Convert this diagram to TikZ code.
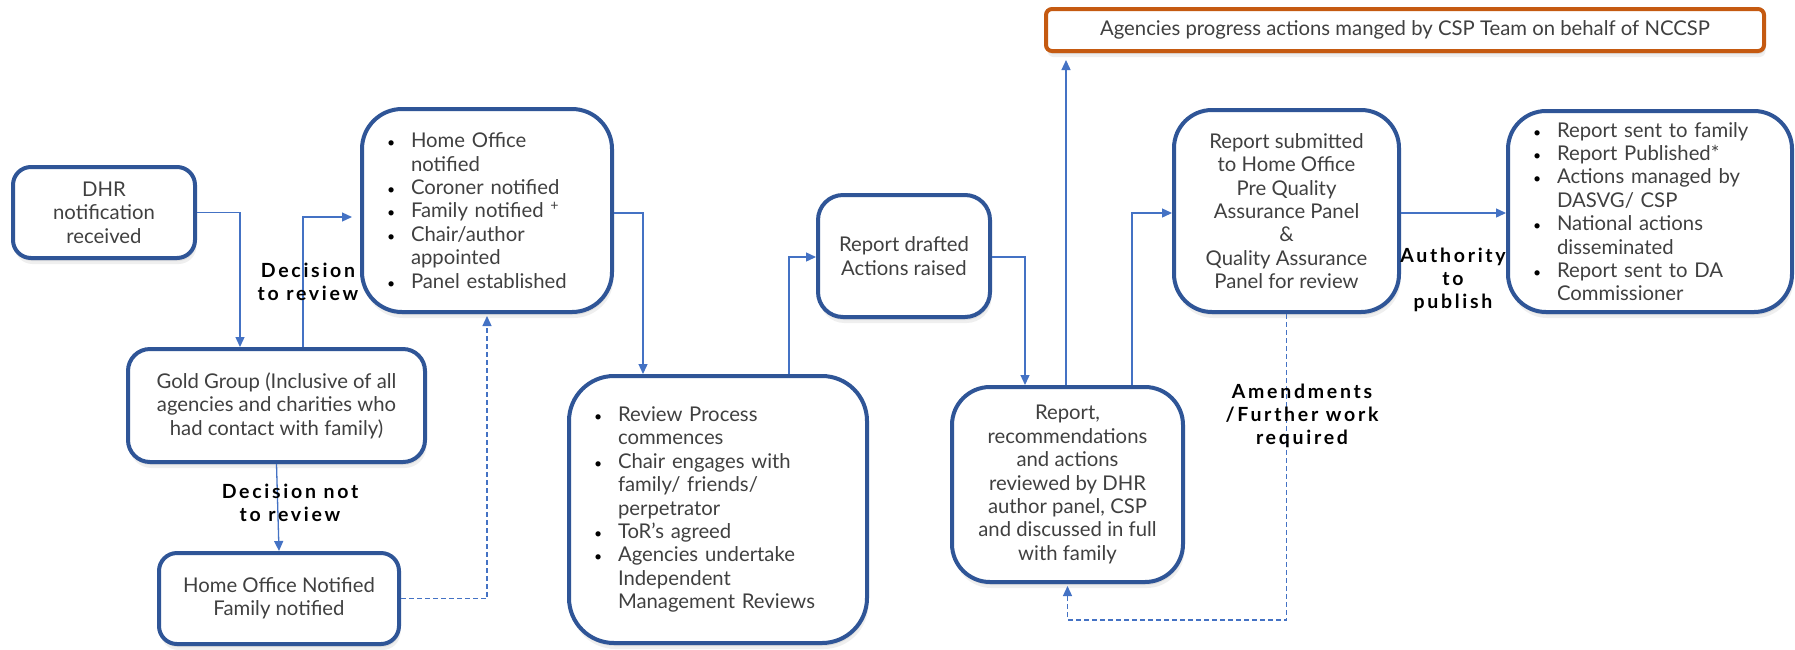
\documentclass[tikz,border=0pt]{standalone}
\usepackage{fontspec}
\setmainfont{Lato}
\newfontfamily\lblfont{Lato}[LetterSpace=14]
\usetikzlibrary{arrows.meta,shadows}
\definecolor{boxblue}{HTML}{2F5597}
\definecolor{linkblue}{HTML}{4472C4}
\definecolor{orng}{HTML}{C55A11}
\definecolor{txt}{HTML}{404040}
\newcommand{\bu}{\makebox[25pt][l]{\hspace*{1pt}\color{black}\fontsize{14}{14}\selectfont\textbullet}}
\newcommand{\bc}{\hspace*{25pt}}
\begin{document}
\begin{tikzpicture}[x=1pt,y=-1pt,
  every node/.style={font=\fontsize{20.3}{23.4}\selectfont, text=txt},
  box/.style={draw=boxblue, line width=4pt, fill=white, rounded corners=#1, inner sep=0pt, align=center,
    drop shadow={opacity=.12, shadow xshift=1.5pt, shadow yshift=-6pt},
    drop shadow={opacity=.15, shadow xshift=1pt, shadow yshift=-3pt}},
  box/.default=20pt,
  blist/.style={align=left, inner xsep=24pt},
  lbl/.style={font=\lblfont\bfseries\fontsize{19.5}{23}\selectfont, text=black, align=center},
  conn/.style={draw=linkblue, line width=1.3pt, -{Triangle[length=10pt,width=9pt]}},
  dconn/.style={conn, dash pattern=on 5pt off 3pt}
]
\fill[white] (0,0) rectangle (1795,649);
\useasboundingbox (0,0) rectangle (1795,649);

\node[box=6pt, draw=orng, minimum width=718pt, minimum height=42pt] (top) at (1405,30)
  {Agencies progress actions manged by CSP Team on behalf of NCCSP};
\node[box=18pt, minimum width=182pt, minimum height=91pt] (dhr) at (104,212.5)
  {DHR\\notification\\received};
\node[box=40pt, blist, text width=202pt, minimum height=203pt] (ho) at (487,210.5)
  {\bu Home Office\\\bc notified\\\bu Coroner notified\\\bu Family notified \textsuperscript{+}\\\bu Chair/author\\\bc appointed\\\bu Panel established};
\node[box=22pt, minimum width=297pt, minimum height=113pt] (gold) at (276.5,405.5)
  {Gold Group (Inclusive of all\\agencies and charities who\\had contact with family)};
\node[box=18pt, minimum width=240pt, minimum height=91pt] (hon) at (279,598.5)
  {Home Office Notified\\Family notified};
\node[box=45pt, blist, text width=250pt, minimum height=267pt] (review) at (718,509.5)
  {\bu Review Process\\\bc commences\\\bu Chair engages with\\\bc family/ friends/\\\bc perpetrator\\\bu ToR's agreed\\\bu Agencies undertake\\\bc Independent\\\bc Management Reviews};
\node[box=25pt, minimum width=172pt, minimum height=122pt] (drafted) at (904,256)
  {Report drafted\\Actions raised};
\node[box=38pt, minimum width=231pt, minimum height=195pt] (reviewed) at (1067.5,484.5)
  {Report,\\recommendations\\and actions\\reviewed by DHR\\author panel, CSP\\and discussed in full\\with family};
\node[box=38pt, minimum width=225pt, minimum height=202pt] (submitted) at (1286.5,211)
  {Report submitted\\to Home Office\\Pre Quality\\Assurance Panel\\\&\\Quality Assurance\\Panel for review};
\node[box=38pt, blist, text width=236pt, minimum height=201pt] (sent) at (1650,211.5)
  {\bu Report sent to family\\\bu Report Published*\\\bu Actions managed by\\\bc DASVG/ CSP\\\bu National actions\\\bc disseminated\\\bu Report sent to DA\\\bc Commissioner};

\draw[conn] (dhr.east) -| (gold.north -| 240,0);
\draw[conn, shorten >=8pt] (gold.north -| 303,0) |- (ho.west |- 0,217);
\draw[conn] (gold.south) -- (hon.north);
\draw[dconn, shorten >=2pt] (hon.east) -| (ho.south);
\draw[conn] (ho.east |- 0,213) -| (review.north -| 643,0);
\draw[conn] (review.north -| 789,0) |- (drafted.west |- 0,257);
\draw[conn] (drafted.east |- 0,257) -| (reviewed.north -| 1025,0);
\draw[conn, shorten >=7pt] (reviewed.north -| 1066,0) -- (top.south -| 1066,0);
\draw[conn] (reviewed.north -| 1132,0) |- (submitted.west |- 0,213);
\draw[conn] (submitted.east |- 0,213) -- (sent.west |- 0,213);
\draw[dconn, shorten >=2pt] (submitted.south) -- ++(0,306) -| (reviewed.south);

\node[lbl] (l1) at (308,282) {Decision\\to review};
\node[lbl] (l2) at (290,503) {Decision not\\to review};
\node[lbl] (l3) at (1453,280) {Authority\\to\\publish};
\node[lbl] (l4) at (1302,416) {Amendments\\/Further work\\required};
\end{tikzpicture}
\end{document}
